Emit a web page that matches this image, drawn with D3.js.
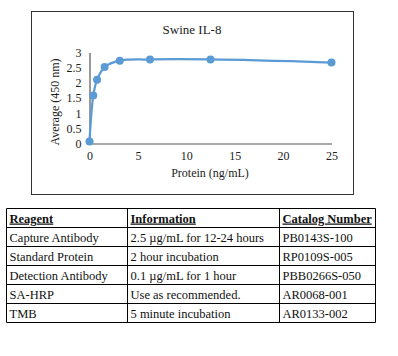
<!DOCTYPE html>
<html><head><meta charset="utf-8">
<script src="https://cdn.jsdelivr.net/npm/d3@7"></script>
<style>body{margin:0;background:#fff}svg{display:block}</style>
</head><body>
<svg id="c" width="398" height="356"></svg>
<script>
const concentrations = [0, 0.39, 0.78, 1.56, 3.125, 6.25, 12.5, 25];
const averages = [0.07, 1.58, 2.1, 2.52, 2.73, 2.77, 2.77, 2.67];
const xTicks = [0, 5, 10, 15, 20, 25];
const yTicks = [0, 0.5, 1, 1.5, 2, 2.5, 3];
const title = "Swine IL-8";
const xTitle = "Protein (ng/mL)";
const yTitle = "Average (450 nm)";
const tableHeaders = ["Reagent", "Information", "Catalog Number"];
const reagents = ["Capture Antibody", "Standard Protein", "Detection Antibody", "SA-HRP", "TMB"];
const information = ["2.5 µg/mL for 12-24 hours", "2 hour incubation", "0.1 µg/mL for 1 hour", "Use as recommended.", "5 minute incubation"];
const catalogNumbers = ["PB0143S-100", "RP0109S-005", "PBB0266S-050", "AR0068-001", "AR0133-002"];

(function () {
const font = "'Liberation Serif', 'DejaVu Serif', serif";
const svg = d3.select("#c");

svg.append("rect").attr("x", 31.5).attr("y", 11.5).attr("width", 322).attr("height", 183)
  .attr("fill", "#fff").attr("stroke", "#333").attr("stroke-width", 1);

const x = d3.scaleLinear().domain([0, 25]).range([89.5, 331.5]);
const y = d3.scaleLinear().domain([0, 3]).range([143.5, 52.5]);

svg.append("text").attr("x", 192).attr("y", 34).attr("text-anchor", "middle")
  .attr("font-family", font).attr("font-size", 13).attr("fill", "#222").text(title);

const xAxis = svg.append("g").attr("transform", `translate(0,${y(0)})`)
  .call(d3.axisBottom(x).tickValues(xTicks).tickSize(0).tickPadding(8).tickFormat(d3.format("d")));
const yAxis = svg.append("g").attr("transform", `translate(${x(0)},0)`)
  .call(d3.axisLeft(y).tickValues(yTicks).tickSize(0).tickPadding(8).tickFormat(d => String(d)));
[xAxis, yAxis].forEach(g => {
  g.select(".domain").attr("stroke", "#555").attr("stroke-width", 1.2);
  g.selectAll("text").attr("font-family", font).attr("font-size", 12).attr("fill", "#222");
});

svg.append("text").attr("x", 210).attr("y", 177).attr("text-anchor", "middle")
  .attr("font-family", font).attr("font-size", 12).attr("fill", "#222").text(xTitle);
svg.append("text").attr("transform", "translate(59,102) rotate(-90)").attr("text-anchor", "middle")
  .attr("font-family", font).attr("font-size", 12).attr("fill", "#222").text(yTitle);

const pts = concentrations.map((c, i) => [c, averages[i]]);
svg.append("path").datum(pts)
  .attr("d", d3.line().x(d => x(d[0])).y(d => y(d[1])).curve(d3.curveCatmullRom.alpha(0.5)))
  .attr("fill", "none").attr("stroke", "#5B9BD5").attr("stroke-width", 2.25);
svg.selectAll("circle.pt").data(pts).join("circle").attr("class", "pt")
  .attr("cx", d => x(d[0])).attr("cy", d => y(d[1])).attr("r", 4)
  .attr("fill", "#5B9BD5");

const colX = [6.5, 127.5, 279.5, 375.5];
const rowH = 19;
const tTop = 208.5;
const nRows = reagents.length + 1;
const tg = svg.append("g");
for (let i = 0; i <= nRows; i++) {
  tg.append("line").attr("x1", colX[0]).attr("x2", colX[3])
    .attr("y1", tTop + i * rowH).attr("y2", tTop + i * rowH).attr("stroke", "#000");
}
colX.forEach(cx => tg.append("line").attr("x1", cx).attr("x2", cx)
  .attr("y1", tTop).attr("y2", tTop + nRows * rowH).attr("stroke", "#000"));

const rows = [tableHeaders].concat(reagents.map((r, i) => [r, information[i], catalogNumbers[i]]));
rows.forEach((row, ri) => {
  row.forEach((cell, ci) => {
    tg.append("text").attr("x", colX[ci] + 3).attr("y", tTop + ri * rowH + 14)
      .attr("font-family", font).attr("font-size", 12.5).attr("fill", "#111")
      .attr("font-weight", ri === 0 ? "bold" : "normal")
      .attr("text-decoration", ri === 0 ? "underline" : null)
      .text(cell);
  });
});
})();
</script>
</body></html>
